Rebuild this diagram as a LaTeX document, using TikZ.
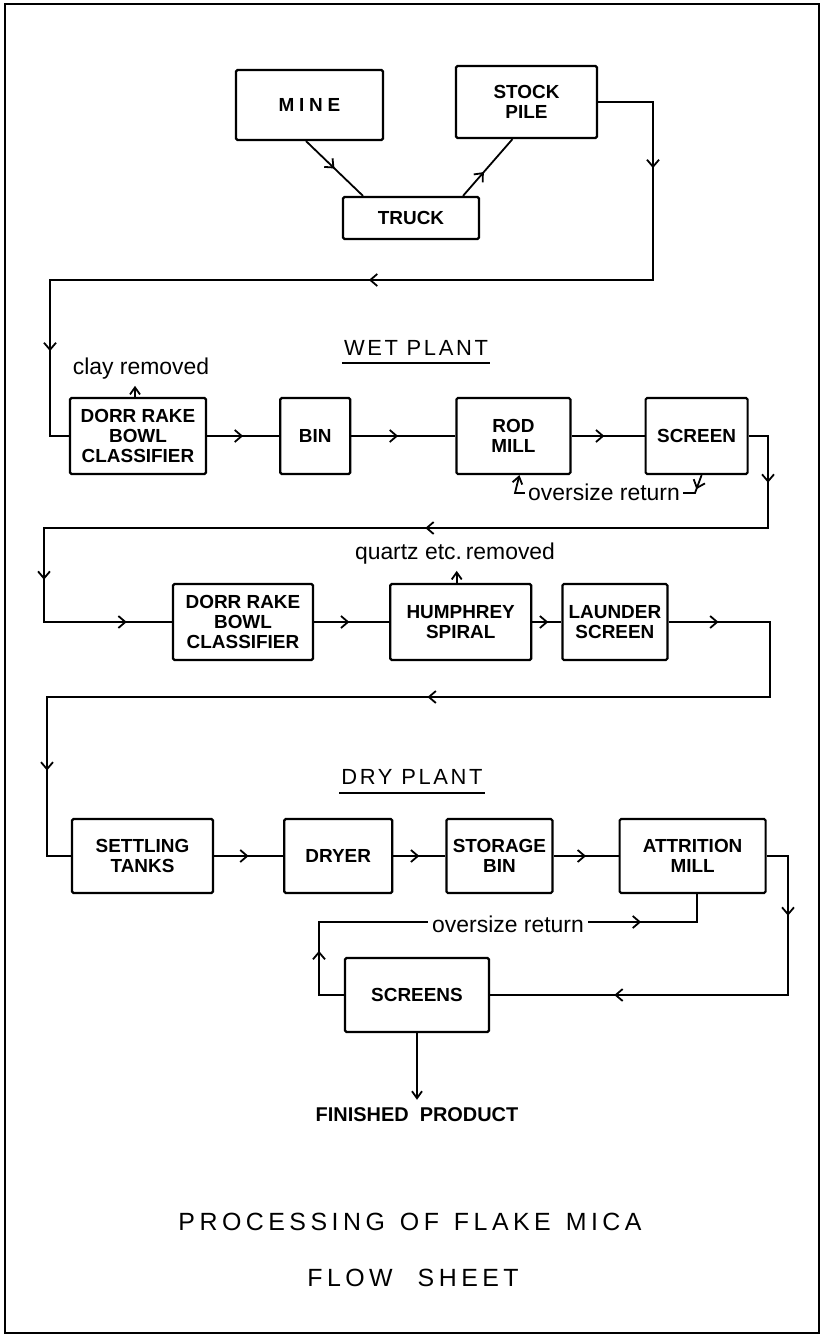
\documentclass[tikz,border=0pt]{standalone}
\usepackage{fontspec}
\setmainfont{Liberation Sans}
\newfontfamily\titlefont[LetterSpace=18]{Liberation Sans}
\newfontfamily\headfont[LetterSpace=12]{Liberation Sans}
\usetikzlibrary{arrows.meta, positioning, decorations.markings}
\tikzstyle{proc} = [rectangle, rounded corners=1.5bp, draw=black, line width=2.2bp, minimum height=76bp, align=center, font=\bfseries\fontsize{19}{20}\selectfont]
\tikzstyle{note} = [inner sep=1bp, font=\fontsize{23}{26}\selectfont]
\tikzstyle{heading} = [inner sep=0pt, font=\headfont\fontsize{22}{24}\selectfont]
\tikzstyle{titletext} = [inner sep=0pt, font=\titlefont\fontsize{25}{28}\selectfont]
\tikzstyle{pipe} = [line width=1.8bp]
\tikzstyle{outarrow} = [-{Straight Barb[length=7bp,width=10bp]}]
\tikzset{flowmark/.style={postaction={decorate, decoration={markings, mark=at position #1 with {\arrow{Straight Barb[length=7bp,width=12bp]}}}}}}

\begin{document}
\begin{tikzpicture}[x=1bp, y=-1bp]
    \useasboundingbox (0,0) rectangle (822,1335);
    \draw [line width=2.8bp] (5,4) rectangle (819,1333);

    % Mine and stock pile
    \node (mine) [proc, minimum width=147bp, minimum height=70bp] at (309.5,105) {\addfontfeature{LetterSpace=25}MINE};
    \node (stock) [proc, minimum width=141bp, minimum height=72bp] at (526.5,102) {STOCK\\PILE};
    \node (truck) [proc, minimum width=136bp, minimum height=42bp] at (411,218) {TRUCK};

    \draw [pipe, flowmark=0.5] ([xshift=-3.5bp]mine.south) -- ([xshift=-48bp]truck.north);
    \draw [pipe, flowmark=0.42] ([xshift=52bp]truck.north) -- ([xshift=-14bp]stock.south);

    % Wet plant
    \node (wet) [heading] at (416,348) {WET PLANT};
    \draw [pipe] ([xshift=-2bp, yshift=-7bp]wet.south west) -- ([xshift=2bp, yshift=-7bp]wet.south east);

    \node (dorra) [proc, minimum width=136bp] at (138,436) {DORR RAKE\\BOWL\\CLASSIFIER};
    \node (bin) [proc, minimum width=70bp, right=72bp of dorra] {BIN};
    \node (rod) [proc, minimum width=114bp, right=104bp of bin] {ROD\\MILL};
    \node (screen) [proc, minimum width=102bp, right=73bp of rod] {SCREEN};
    \node (clay) [note] at (141,369) {clay removed};

    \coordinate (ra) at (653,280);
    \coordinate (la) at (50,280);
    \draw [pipe, flowmark=121bp, flowmark=517bp, flowmark=907bp] (stock.east) -| (ra) -- (la) |- (dorra.west);

    \draw [pipe, outarrow, shorten >=5bp] ([xshift=-3bp]dorra.north) -- ([xshift=-3bp]dorra.north |- clay.south);
    \draw [pipe, flowmark=0.5] (dorra) -- (bin);
    \draw [pipe, flowmark=0.45] (bin) -- (rod);
    \draw [pipe, flowmark=0.45] (rod) -- (screen);

    \coordinate (ro) at (695,493);
    \coordinate (lo) at (515,493);
    \draw [pipe, flowmark=15bp, outarrow] ([xshift=5bp]screen.south) -- (ro) -- (lo) -- ([xshift=6bp]rod.south);
    \node (ovra) [note, fill=white, inner xsep=3bp] at (604,492) {oversize return};

    \node (dorrb) [proc, minimum width=140bp] at (243,622) {DORR RAKE\\BOWL\\CLASSIFIER};
    \node (humph) [proc, minimum width=141bp, right=75bp of dorrb] {HUMPHREY\\SPIRAL};
    \node (launder) [proc, minimum width=105bp, right=29bp of humph] {LAUNDER\\SCREEN};
    \node (quartz) [note] at (455,554) {quartz etc.\,removed};

    \coordinate (rb) at (768,528);
    \coordinate (lb) at (44,528);
    \draw [pipe, flowmark=66bp, flowmark=454bp, flowmark=887bp, flowmark=1012bp] (screen.east) -| (rb) -- (lb) |- (dorrb.west);

    \draw [pipe, flowmark=0.47] (dorrb) -- (humph);
    \draw [pipe, flowmark=0.55] (humph) -- (launder);
    \draw [pipe, outarrow, shorten >=5bp] ([xshift=-4bp]humph.north) -- ([xshift=-4bp]humph.north |- quartz.south);

    % Dry plant
    \node (dry) [heading] at (412,777) {DRY PLANT};
    \draw [pipe] ([xshift=-2bp, yshift=-8bp]dry.south west) -- ([xshift=2bp, yshift=-8bp]dry.south east);

    \node (settle) [proc, minimum width=141bp, minimum height=74bp] at (142.5,856) {SETTLING\\TANKS};
    \node (dryer) [proc, minimum width=108bp, minimum height=74bp, right=69bp of settle] {DRYER};
    \node (storage) [proc, minimum width=106bp, minimum height=74bp, right=52bp of dryer] {STORAGE\\BIN};
    \node (attr) [proc, minimum width=146bp, minimum height=74bp, right=65bp of storage] {ATTRITION\\MILL};
    \node (screens) [proc, minimum width=144bp, minimum height=74bp] at (417,995) {SCREENS};

    \coordinate (rc) at (770,697);
    \coordinate (lc) at (47,697);
    \draw [pipe, flowmark=50bp, flowmark=519bp, flowmark=973bp] (launder.east) -| (rc) -- (lc) |- (settle.west);

    \draw [pipe, flowmark=0.5] (settle) -- (dryer);
    \draw [pipe, flowmark=0.5] (dryer) -- (storage);
    \draw [pipe, flowmark=0.5] (storage) -- (attr);

    \coordinate (rd) at (788,995);
    \draw [pipe, flowmark=81bp, flowmark=334bp] (attr.east) -| (rd) -- (screens.east);

    \coordinate (le) at (319,922);
    \draw [pipe, flowmark=69bp, flowmark=420bp] (screens.west) -| (le) -| ([xshift=4bp]attr.south);
    \node (ovrb) [note, fill=white, inner xsep=4bp] at (508,924) {oversize return};

    \node (fin) [inner sep=3bp, font=\bfseries\fontsize{20}{22}\selectfont] at (417,1115) {FINISHED\ \ PRODUCT};
    \draw [pipe, outarrow, shorten >=5bp] (screens) -- (fin);

    % Title
    \node (title) [titletext] at (410,1222) {PROCESSING\hspace{15bp}OF\hspace{15bp}FLAKE\hspace{15bp}MICA};
    \node (sheet) [titletext] at (413,1278) {FLOW\hspace{25bp}SHEET};
\end{tikzpicture}
\end{document}
